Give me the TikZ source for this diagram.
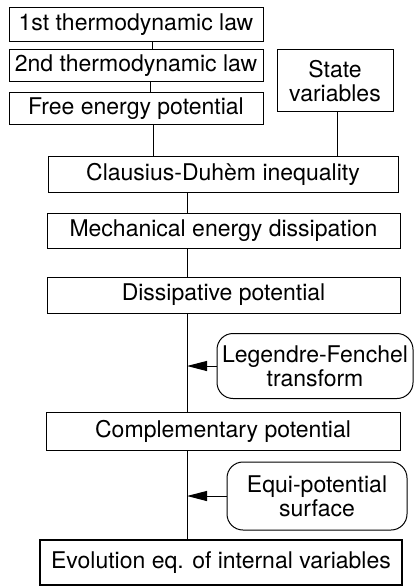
\documentclass[tikz,border=0pt]{standalone}
\usepackage{fontspec}
\setmainfont{TeX Gyre Heros}
\usepackage{tikz}
\usetikzlibrary{arrows.meta}

\begin{document}
\begin{tikzpicture}
	[
	x=1pt, y=-1pt,
	box/.style={
		draw,
		line width=1pt,
		inner sep=0pt,
		align=center,
		font=\fontsize{23}{24}\selectfont
	},
	roundbox/.style={
		box,
		rounded corners=16pt
	},
	line/.style={
		line width=1pt
	},
	arrow/.style={
		-{Triangle[length=20pt,width=10pt]},
		line width=1pt
	}
	]
	\useasboundingbox (0,0) rectangle (416,588);
	
	% Laws and state variables
	\node[box, minimum width=254pt, minimum height=34pt] (first_law) at (136,25)
	{1st thermodynamic law};
	
	\node[box, minimum width=254pt, minimum height=32pt] (second_law) at (136,66)
	{2nd thermodynamic law};
	
	\node[box, minimum width=254pt, minimum height=32pt] (free_energy) at (136,109)
	{Free energy potential};
	
	\node[box, minimum width=116pt, minimum height=62pt] (state_vars) at (335,81)
	{State\\variables};
	
	% Main chain
	\node[box, minimum width=350pt, minimum height=35pt] (clausius) at (223,174.5)
	{Clausius-Duhèm inequality};
	
	\node[box, minimum width=353pt, minimum height=35pt] (mech_diss) at (223.5,230.5)
	{Mechanical energy dissipation};
	
	\node[box, minimum width=353pt, minimum height=36pt] (diss_pot) at (223.5,295)
	{Dissipative potential};
	
	\node[box, minimum width=354pt, minimum height=38pt] (compl_pot) at (223,431)
	{Complementary potential};
	
	\node[box, line width=2.2pt, minimum width=362pt, minimum height=45pt] (evolution) at (221,562.5)
	{Evolution eq. of internal variables};
	
	% Side inputs
	\node[roundbox, minimum width=196pt, minimum height=65pt] (legendre) at (315,366)
	{Legendre-Fenchel\\transform};
	
	\node[roundbox, minimum width=180pt, minimum height=68pt] (equi_pot) at (317,496)
	{Equi-potential\\surface};
	
	\coordinate (spine) at (187,0);
	\coordinate (free_out) at ([xshift=17pt]free_energy.south);
	\coordinate (state_out) at ([xshift=2pt]state_vars.south);
	
	% Lines
	\draw[line] ([xshift=16pt]first_law.south) -- ([xshift=16pt]second_law.north);
	\draw[line] ([xshift=14pt]second_law.south) -- ([xshift=14pt]free_energy.north);
	\draw[line] (free_out) -- (clausius.north -| free_out);
	\draw[line] (state_out) -- (clausius.north -| state_out);
	
	\draw[line] (clausius.south -| spine) -- (mech_diss.north -| spine);
	\draw[line] (mech_diss.south -| spine) -- (diss_pot.north -| spine);
	\draw[line] (diss_pot.south -| spine) -- (compl_pot.north -| spine);
	\draw[line] (compl_pot.south -| spine) -- (evolution.north -| spine);
	
	\draw[arrow] (legendre.west) -- (legendre.west -| spine);
	\draw[arrow] (equi_pot.west) -- (equi_pot.west -| spine);
	
\end{tikzpicture}
\end{document}
